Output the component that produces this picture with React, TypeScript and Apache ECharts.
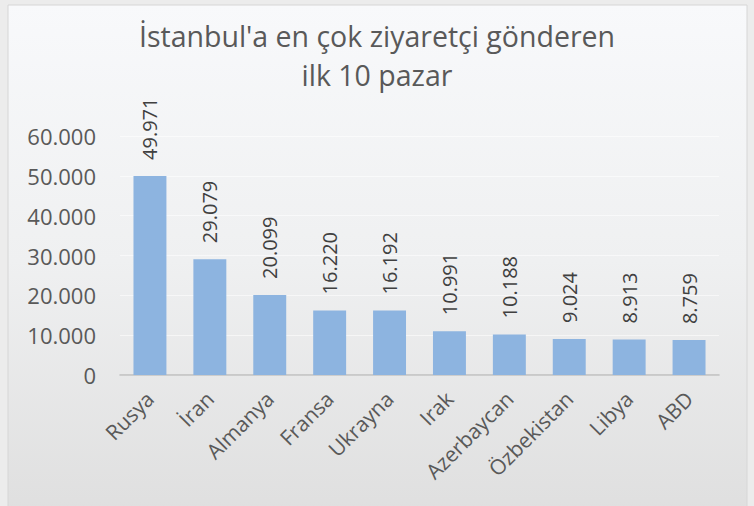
import React, { useEffect, useRef } from "react";
import * as echarts from "echarts";

const titleLines = ["İstanbul'a en çok ziyaretçi gönderen", "ilk 10 pazar"];
const categories = ["Rusya", "İran", "Almanya", "Fransa", "Ukrayna", "Irak", "Azerbaycan", "Özbekistan", "Libya", "ABD"];
const visitors = [49971, 29079, 20099, 16220, 16192, 10991, 10188, 9024, 8913, 8759];
const yMin = 0;
const yMax = 60000;
const yInterval = 10000;

const fmt = (v: number) => {
  const s = String(Math.round(v));
  return s.replace(/\B(?=(\d{3})+(?!\d))/g, ".");
};

export default function App() {
  const ref = useRef<HTMLDivElement>(null);
  useEffect(() => {
    document.body.style.margin = "0";
    const chart = echarts.init(ref.current!, null, { renderer: "svg" });
    const font = "'Open Sans', 'DejaVu Sans', sans-serif";
    const titleStyle = {
      fontFamily: font,
      fontSize: 28.5,
      fontWeight: "normal",
      color: "#595959",
      lineHeight: 34,
    };
    chart.setOption({
      animation: false,
      backgroundColor: "#ececec",
      graphic: [
        {
          type: "rect",
          z: -10,
          silent: true,
          shape: { x: 8, y: 5, width: 739, height: 510 },
          style: {
            fill: new echarts.graphic.LinearGradient(0, 0, 0, 1, [
              { offset: 0, color: "#f8f9fb" },
              { offset: 0.5, color: "#eff0f1" },
              { offset: 1, color: "#dfdfdf" },
            ]),
            stroke: "#d6d6d6",
            lineWidth: 1,
          },
        },
      ],
      title: [
        { text: titleLines[0], left: "center", top: 19, padding: 0, textStyle: titleStyle },
        { text: titleLines[1], left: "center", top: 58, padding: 0, textStyle: titleStyle },
      ],
      grid: { left: 120, right: 35, top: 136, bottom: 131 },
      xAxis: {
        type: "category",
        data: categories,
        axisLine: { show: true, lineStyle: { color: "#bfbfbf", width: 1.5 } },
        axisTick: { show: false },
        axisLabel: {
          rotate: 45,
          interval: 0,
          margin: 20,
          fontFamily: font,
          fontSize: 21,
          color: "#595959",
        },
      },
      yAxis: {
        type: "value",
        min: yMin,
        max: yMax,
        interval: yInterval,
        axisLine: { show: false },
        axisTick: { show: false },
        splitLine: { show: true, lineStyle: { color: "rgba(255,255,255,0.55)", width: 1 } },
        axisLabel: {
          margin: 24,
          fontFamily: font,
          fontSize: 22,
          color: "#595959",
          formatter: (v: number) => fmt(v),
        },
      },
      series: [
        {
          type: "bar",
          data: visitors,
          barCategoryGap: "45%",
          itemStyle: { color: "#8db4e0" },
          label: {
            show: true,
            position: "top",
            rotate: 90,
            align: "left",
            verticalAlign: "middle",
            distance: 16,
            fontFamily: font,
            fontSize: 20,
            color: "#404040",
            formatter: (p: any) => fmt(p.value),
          },
        },
      ],
    });
    return () => chart.dispose();
  }, []);
  return <div ref={ref} style={{ width: 754, height: 506 }} />;
}
